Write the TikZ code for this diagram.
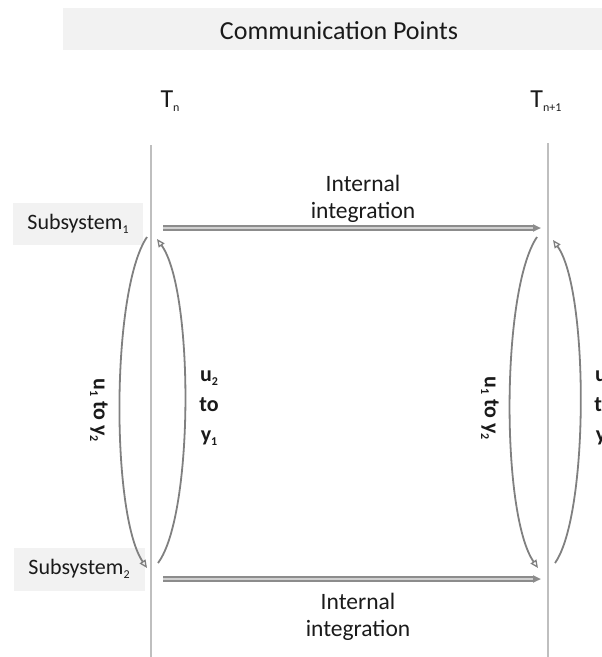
\documentclass[tikz,border=0pt]{standalone}
\usepackage{fontspec}
\setmainfont{Carlito}
\usetikzlibrary{arrows.meta}
\definecolor{boxgray}{HTML}{F2F2F2}
\definecolor{railgray}{HTML}{BFBFBF}
\definecolor{arrowgray}{HTML}{8C8C8C}
\definecolor{shaftgray}{HTML}{D0D0D0}
\definecolor{curvegray}{HTML}{808080}
\definecolor{inkdark}{HTML}{1A1A1A}
% small, lowered index as used in the labels
\newcommand{\lowidx}[1]{\raisebox{-0.35ex}{\fontsize{12}{12}\selectfont #1}}
\tikzset{
  every node/.style={text=inkdark, font=\fontsize{22}{27}\selectfont},
  labelbox/.style={fill=boxgray, inner sep=0pt},
  rail/.style={draw=railgray, line width=2.6pt},
  flowarrow/.style={draw=arrowgray, line width=2pt, double=shaftgray, double distance=2pt,
    -{Triangle[length=8pt, width=7pt]}},
  exchange/.style={draw=curvegray, line width=1.8pt,
    -{Triangle[open, length=8pt, width=7pt, line width=1.3pt]}},
  signal/.style={font=\bfseries\fontsize{22}{30}\selectfont, align=center, inner sep=0pt},
  stepnote/.style={align=center, inner sep=0pt, font=\fontsize{23.5}{27}\selectfont},
  bigtext/.style={font=\fontsize{26}{30}\selectfont},
}
\begin{document}
\begin{tikzpicture}[x=1pt, y=-1pt]
\useasboundingbox (0,0) rectangle (602,657);
\clip (0,0) rectangle (602,657);

% header band
\node[labelbox, minimum width=539pt, minimum height=42pt, anchor=north west] (header) at (63,8) {};
\node[bigtext] (title) at (339,31) {Communication Points};

% time labels
\node[bigtext] (tn) at (170,101) {T\lowidx{n}};
\node[bigtext] (tn1) at (546,101) {T\lowidx{n+1}};

% communication-point rails
\coordinate (railAtop) at (151,145);
\coordinate (railAbot) at (151,657);
\coordinate (railBtop) at (548,143);
\coordinate (railBbot) at (548,657);
\draw[rail] (railAtop) -- (railAbot);
\draw[rail] (railBtop) -- (railBbot);

% subsystems
\node[labelbox, minimum width=130pt, minimum height=42pt] (sub1) at (78,224) {Subsystem\lowidx{1}};
\node[labelbox, minimum width=131pt, minimum height=43pt] (sub2) at (79,569) {Subsystem\lowidx{2}};

% internal integration arrows
\coordinate (intAs) at (163,228);
\coordinate (intAe) at (541,228);
\coordinate (intBs) at (163,579);
\coordinate (intBe) at (541,579);
\draw[flowarrow] (intAs) -- (intAe);
\draw[flowarrow] (intBs) -- (intBe);
\node[stepnote] (noteA) at (363,199) {Internal\\integration};
\node[stepnote] (noteB) at (358,617) {Internal\\integration};

% exchange at T_n
\coordinate (a1) at (147,237);
\coordinate (a2) at (147,568);
\coordinate (a3) at (158,563);
\coordinate (a4) at (157,239);
\draw[exchange] (a1) .. controls (111,290) and (111,515) .. (a2);
\draw[exchange] (a3) .. controls (194,515) and (194,290) .. (a4);
\node[signal, rotate=-90] (uyA) at (99,410) {u\lowidx{1} to y\lowidx{2}};
\node[signal] (yuA) at (209,408) {u\lowidx{2}\\to\\y\lowidx{1}};

% exchange at T_{n+1}
\coordinate (b1) at (537,237);
\coordinate (b2) at (538,568);
\coordinate (b3) at (555,563);
\coordinate (b4) at (553,240);
\draw[exchange] (b1) .. controls (501,290) and (501,515) .. (b2);
\draw[exchange] (b3) .. controls (589,515) and (589,290) .. (b4);
\node[signal, rotate=-90] (uyB) at (490,408) {u\lowidx{1} to y\lowidx{2}};
\node[signal] (yuB) at (604,408) {u\lowidx{2}\\to\\y\lowidx{1}};
\end{tikzpicture}
\end{document}
